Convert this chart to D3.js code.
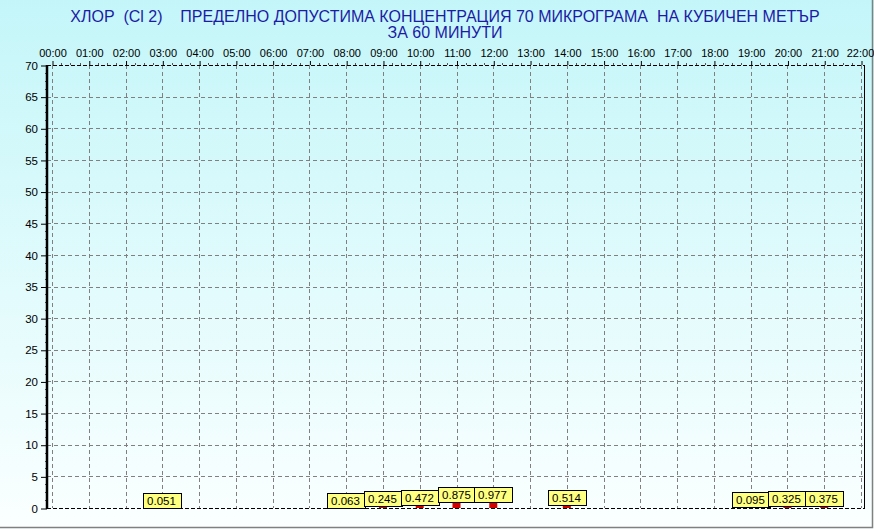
<!DOCTYPE html>
<html>
<head>
<meta charset="utf-8">
<script src="https://cdn.jsdelivr.net/npm/d3@7"></script>
<style>
  body { margin: 0; background: #fff; }
  svg { display: block; font-family: Arial, "Liberation Sans", sans-serif; }
</style>
</head>
<body>
<div id="main"></div>
<script>
const titleLines = ["ХЛОР  (Cl 2)    ПРЕДЕЛНО ДОПУСТИМА КОНЦЕНТРАЦИЯ 70 МИКРОГРАМА  НА КУБИЧЕН МЕТЪР", "ЗА 60 МИНУТИ"];
const hourTicks = ["00:00","01:00","02:00","03:00","04:00","05:00","06:00","07:00","08:00","09:00","10:00","11:00",
                   "12:00","13:00","14:00","15:00","16:00","17:00","18:00","19:00","20:00","21:00","22:00"];
const yTicks = [0,5,10,15,20,25,30,35,40,45,50,55,60,65,70];
const hours = ["03:00","08:00","09:00","10:00","11:00","12:00","14:00","19:00","20:00","21:00"];
const values = [0.051, 0.063, 0.245, 0.472, 0.875, 0.977, 0.514, 0.095, 0.325, 0.375];

const width = 874;
const height = 529;
const svg = d3.select('#main').append('svg').attr('width', width).attr('height', height);

const defs = svg.append('defs');
const grad = defs.append('linearGradient').attr('id', 'bg').attr('x1', 0).attr('y1', 0).attr('x2', 0).attr('y2', 1);
grad.append('stop').attr('offset', '0%').attr('stop-color', '#c4f6f9');
grad.append('stop').attr('offset', '100%').attr('stop-color', '#fbffff');

svg.append('rect').attr('width', width).attr('height', height).attr('fill', 'url(#bg)');
// panel border (bottom / right)
svg.append('path').attr('d', `M0,${height - 1.5}H${width - 1.5}V0`).attr('fill', 'none').attr('stroke', '#808080').attr('stroke-width', 1.5);

const x = d3.scaleLinear().domain([0, 22]).range([52, 861]);
const y = d3.scaleLinear().domain([0, 70]).range([508, 65]);
const frameLeft = 47, frameRight = 864;

// title
svg.append('g').selectAll('text').data(titleLines).enter().append('text')
  .attr('x', 445).attr('y', (d, i) => 22 + i * 16)
  .attr('text-anchor', 'middle').attr('fill', '#1c1ca6').style('font-size', '16px')
  .style('white-space', 'pre').attr('xml:space', 'preserve')
  .text(d => d);

// grid
const grid = svg.append('g').attr('stroke', '#808080').attr('stroke-dasharray', '4,3').attr('stroke-width', 1);
grid.selectAll('.v').data(hourTicks).enter().append('line')
  .attr('x1', (d, i) => Math.round(x(i)) + 0.5).attr('x2', (d, i) => Math.round(x(i)) + 0.5)
  .attr('y1', y(70)).attr('y2', y(0));
grid.selectAll('.h').data(yTicks.filter(d => d > 0 && d < 70)).enter().append('line')
  .attr('x1', frameLeft).attr('x2', frameRight)
  .attr('y1', d => Math.round(y(d)) + 0.5).attr('y2', d => Math.round(y(d)) + 0.5);

// frame
const frame = svg.append('g').attr('fill', 'none');
frame.append('line').attr('x1', frameLeft).attr('x2', frameRight).attr('y1', y(70) + 0.5).attr('y2', y(70) + 0.5)
  .attr('stroke', '#000').attr('stroke-dasharray', '4,2');
frame.append('line').attr('x1', frameLeft).attr('x2', frameRight).attr('y1', y(0) + 0.5).attr('y2', y(0) + 0.5)
  .attr('stroke', '#000').attr('stroke-dasharray', '4,2');
frame.append('line').attr('x1', frameRight + 0.5).attr('x2', frameRight + 0.5).attr('y1', y(70)).attr('y2', y(0) + 1)
  .attr('stroke', '#000');

// y axis
const yAxis = d3.axisLeft(y).tickValues(yTicks).tickSize(6).tickPadding(3).tickFormat(d3.format('d'));
const gy = svg.append('g').attr('transform', `translate(${frameLeft},0.5)`).call(yAxis);
gy.select('.domain').remove();
gy.selectAll('text').style('font-size', '11.5px').attr('fill', '#000');
const yMinor = [];
yTicks.slice(0, -1).forEach(t => { for (let k = 1; k < 4; k++) yMinor.push(t + k * 1.25); });
svg.append('g').selectAll('line').data(yMinor).enter().append('line')
  .attr('x1', frameLeft - 2).attr('x2', frameLeft)
  .attr('y1', d => Math.round(y(d)) + 0.5).attr('y2', d => Math.round(y(d)) + 0.5).attr('stroke', '#555');
svg.append('line').attr('x1', frameLeft).attr('x2', frameLeft).attr('y1', y(70)).attr('y2', y(0) + 1)
  .attr('stroke', '#000').attr('stroke-width', 2.5);

// x axis on top
const xAxis = d3.axisTop(x).tickValues(d3.range(hourTicks.length)).tickSize(4).tickPadding(4).tickFormat(i => hourTicks[i]);
const gx = svg.append('g').attr('transform', `translate(0.5,${y(70)})`).call(xAxis);
gx.select('.domain').remove();
gx.selectAll('text').style('font-size', '11px').attr('fill', '#000')
  .attr('dx', (d, i) => i === hourTicks.length - 1 ? -1.5 : 0);
const xMinor = [];
hourTicks.slice(0, -1).forEach((t, i) => { for (let k = 1; k < 4; k++) xMinor.push(i + k / 4); });
svg.append('g').selectAll('line').data(xMinor).enter().append('line')
  .attr('x1', d => Math.round(x(d)) + 0.5).attr('x2', d => Math.round(x(d)) + 0.5)
  .attr('y1', y(70) - 2).attr('y2', y(70)).attr('stroke', '#555');

// bars
const data = hours.map((h, i) => ({ hour: hourTicks.indexOf(h), value: values[i] }));
const barW = 8;
svg.append('g').selectAll('rect').data(data).enter().append('rect')
  .attr('x', d => x(d.hour) - barW / 2).attr('width', barW)
  .attr('y', d => y(d.value)).attr('height', d => y(0) - y(d.value))
  .attr('fill', '#d40000');

// marks
const boxW = 38, boxH = 15;
const marks = svg.append('g').selectAll('g').data(data).enter().append('g')
  .attr('transform', d => `translate(${Math.round(x(d.hour) - boxW / 2) + 0.5},${Math.round(y(d.value) - boxH) + 0.5})`);
marks.append('rect').attr('width', boxW).attr('height', boxH).attr('fill', '#ffff80').attr('stroke', '#000');
marks.append('text').attr('x', boxW / 2 - 1).attr('y', boxH / 2 + 4).attr('text-anchor', 'middle')
  .style('font-size', '11.5px').attr('fill', '#000').text(d => d.value.toFixed(3));
</script>
</body>
</html>
